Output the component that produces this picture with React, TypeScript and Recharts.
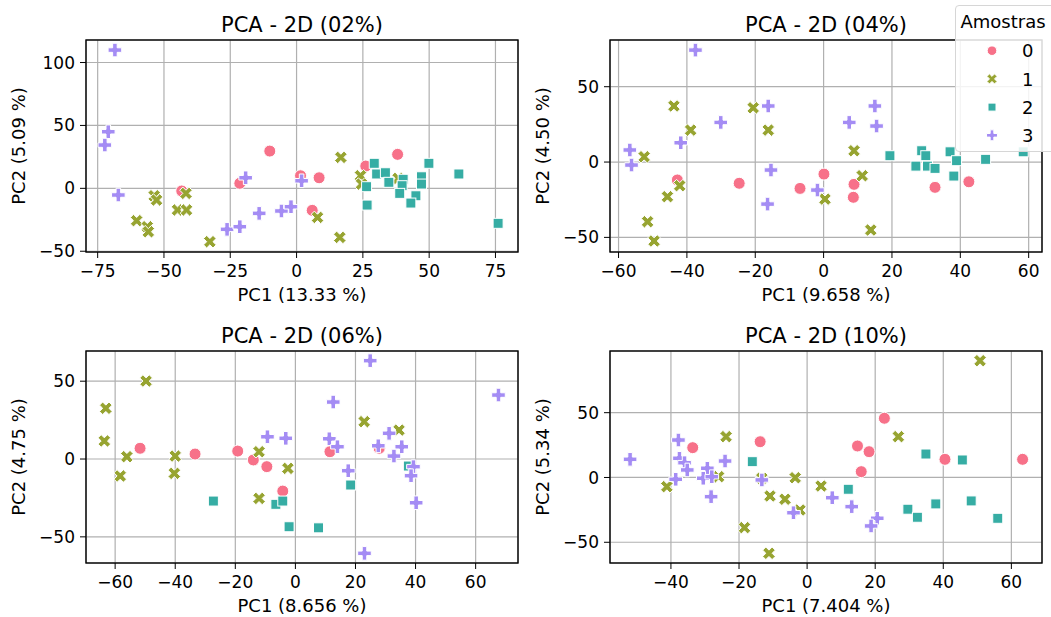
import { ScatterChart, Scatter, XAxis, YAxis, CartesianGrid } from 'recharts';

type Pt = [number, number];

const FONT = '"DejaVu Sans", sans-serif';

const classes = ['0', '1', '2', '3'];
const colors = ['#f77189', '#97a431', '#36ada4', '#a48cf4'];

// PCA 02%
const p02c0: Pt[] = [[-43.3, -2.1], [-21.4, 4.0], [-10.1, 29.6], [1.5, 10.0], [8.5, 8.4], [5.9, -17.5], [26.1, 17.7], [38.1, 27.0]];
const p02c1: Pt[] = [[-60.3, -25.7], [-56.3, -30.5], [-55.9, -34.5], [-53.7, -5.9], [-52.8, -9.3], [-44.9, -17.2], [-41.5, -17.2], [-41.7, -4.0], [-32.7, -42.4], [16.7, 24.6], [7.9, -23.1], [16.3, -39.0], [24.1, 10.0], [24.5, 3.4], [38.3, 7.9]];
const p02c2: Pt[] = [[29.3, 19.9], [30.2, 11.4], [33.5, 12.4], [34.8, 4.8], [26.4, 1.3], [26.6, -13.3], [40.2, 7.2], [39.8, 2.1], [38.9, -4.0], [45.0, -5.9], [43.1, -11.7], [47.1, 9.2], [47.1, 3.4], [49.9, 19.9], [61.2, 11.4], [76.0, -27.8]];
const p02c3: Pt[] = [[-68.5, 109.9], [-71.0, 45.0], [-72.3, 34.4], [-67.2, -5.3], [-19.2, 8.4], [-14.1, -19.9], [-5.7, -18.0], [-2.1, -14.6], [-26.2, -32.6], [-21.4, -30.5], [1.9, 6.0]];

// PCA 04%
const p04c0: Pt[] = [[-42.8, -11.9], [-24.7, -14.1], [-6.9, -17.5], [0.1, -8.0], [8.9, -14.8], [8.7, -23.4], [32.6, -16.8], [42.5, -13.1]];
const p04c1: Pt[] = [[-43.8, 37.2], [-20.6, 36.0], [-16.2, 21.2], [-38.9, 21.2], [-52.5, 3.5], [-42.1, -15.7], [-45.7, -23.0], [-51.5, -39.6], [-49.6, -52.4], [0.4, -24.6], [8.9, 7.5], [11.3, -9.1], [13.8, -45.1]];
const p04c2: Pt[] = [[19.4, 4.2], [28.7, 7.5], [29.9, 4.2], [27.0, -2.7], [30.4, -2.7], [32.6, -4.2], [37.0, 6.8], [38.9, 0.9], [38.1, -9.3], [47.4, 1.8], [58.4, 6.8]];
const p04c3: Pt[] = [[-37.5, 74.3], [-56.7, 8.0], [-56.2, -2.0], [-41.8, 12.8], [-30.1, 26.3], [-16.2, 37.2], [-15.4, -5.3], [-16.4, -27.9], [-1.8, -18.6], [15.0, 37.2], [15.5, 23.9], [7.5, 26.3]];

// PCA 06%
const p06c0: Pt[] = [[-51.7, 6.9], [-33.4, 3.2], [-19.2, 5.1], [-14.0, -0.6], [-9.5, -4.9], [-4.2, -20.6], [11.5, 4.7], [27.9, 6.9]];
const p06c1: Pt[] = [[-49.7, 50.1], [-63.1, 32.6], [-63.6, 11.6], [-56.1, 1.5], [-58.3, -10.9], [-40.0, 1.9], [-40.3, -9.2], [-12.1, 4.7], [-2.5, -6.0], [-12.1, -25.3], [22.9, 24.0], [34.5, 18.6]];
const p06c2: Pt[] = [[-27.3, -27.0], [-6.5, -29.1], [-4.2, -27.0], [-2.1, -43.5], [18.4, -16.7], [7.7, -44.2], [37.6, -4.5]];
const p06c3: Pt[] = [[-9.3, 14.3], [-3.2, 13.3], [24.9, 63.2], [67.6, 41.1], [12.6, 36.6], [11.3, 13.0], [14.0, 7.9], [31.2, 16.5], [27.6, 8.5], [35.4, 7.9], [32.8, 1.9], [17.6, -7.5], [39.3, -4.9], [38.5, -10.7], [40.2, -28.1], [23.0, -60.6]];

// PCA 10%
const p10c0: Pt[] = [[-33.6, 23.0], [-13.8, 27.6], [22.7, 45.7], [14.8, 24.3], [18.2, 19.9], [15.9, 4.5], [40.5, 14.0], [63.3, 14.0]];
const p10c1: Pt[] = [[-41.2, -7.1], [-23.8, 31.5], [-26.0, 0.6], [-13.3, -0.6], [-10.9, -14.3], [-6.5, -16.8], [-3.5, -0.2], [-2.1, -25.1], [-18.4, -38.7], [-11.2, -58.5], [4.1, -6.6], [26.8, 31.5], [50.8, 90.1]];
const p10c2: Pt[] = [[-16.1, 12.2], [12.1, -9.1], [34.9, 18.1], [45.6, 13.5], [29.6, -24.5], [32.4, -30.7], [37.8, -20.4], [48.2, -18.1], [56.0, -31.5]];
const p10c3: Pt[] = [[-52.0, 14.0], [-37.8, 28.9], [-37.5, 14.8], [-36.0, 11.4], [-35.2, 5.8], [-38.6, -1.4], [-29.3, 7.1], [-30.5, -0.6], [-28.0, 0.6], [-28.2, -14.8], [-24.1, 12.7], [-13.3, -1.9], [-4.0, -27.2], [7.4, -15.6], [13.1, -22.5], [20.6, -31.5], [18.8, -37.4]];

const ticks75 = [-75, -50, -25, 0, 25, 50, 75];
const ticks60 = [-60, -40, -20, 0, 20, 40, 60];
const ticks40 = [-40, -20, 0, 20, 40, 60];
const ticksY100 = [-50, 0, 50, 100];
const ticksY50 = [-50, 0, 50];

const minus = (v: number) => String(v).replace('-', '\u2212');

const toPath = (pts: number[][], k: number) =>
  'M' + pts.map(([a, b]) => `${a * k},${b * k}`).join('L') + 'Z';

// filled plus ("P")
const PLUS = [[-1, -3], [1, -3], [1, -1], [3, -1], [3, 1], [1, 1], [1, 3], [-1, 3], [-1, 1], [-3, 1], [-3, -1], [-1, -1]];
// filled x ("X")
const CROSS = [[-1, -2], [0, -1], [1, -2], [2, -1], [1, 0], [2, 1], [1, 2], [0, 1], [-1, 2], [-2, 1], [-1, 0], [-2, -1]];

function Marker({ cx, cy, kind, scale = 1 }: { cx: number; cy: number; kind: number; scale?: number }) {
  const color = colors[kind];
  const edge = { stroke: '#fff', strokeWidth: 1 };
  if (kind === 0) return <circle cx={cx} cy={cy} r={6 * scale} fill={color} {...edge} />;
  if (kind === 2) {
    const s = 10 * scale;
    return <rect x={cx - s / 2} y={cy - s / 2} width={s} height={s} fill={color} {...edge} />;
  }
  const d = kind === 1 ? toPath(CROSS, (12.6 * scale) / 4) : toPath(PLUS, (13.6 * scale) / 6);
  return <path d={d} transform={`translate(${cx},${cy})`} fill={color} {...edge} />;
}

type Frame = { left: number; top: number; width: number; height: number };

type PanelProps = {
  frame: Frame;
  title: string;
  xLabel: string;
  yLabel: string;
  xDomain: [number, number];
  yDomain: [number, number];
  xTicks: number[];
  yTicks: number[];
  series: Pt[][];
};

const ML = 80;
const MT = 10;
const MR = 10;
const MB = 60;

function Panel({ frame, title, xLabel, yLabel, xDomain, yDomain, xTicks, yTicks, series }: PanelProps) {
  const tickStyle = { fill: '#000', fontSize: 17, fontFamily: FONT };
  return (
    <>
      <div
        style={{
          position: 'absolute',
          left: frame.left,
          width: frame.width,
          top: frame.top - 25.2,
          textAlign: 'center',
          fontSize: 21,
          lineHeight: '21px',
          fontFamily: FONT,
          color: '#000',
          whiteSpace: 'nowrap',
        }}
      >
        {title}
      </div>
      <div style={{ position: 'absolute', left: frame.left - ML, top: frame.top - MT }}>
        <ScatterChart
          width={frame.width + ML + MR}
          height={frame.height + MT + MB}
          margin={{ top: MT, right: MR, bottom: 5, left: 10 }}
        >
          <CartesianGrid stroke="#b0b0b0" strokeWidth={1.2} />
          <XAxis
            type="number"
            dataKey="x"
            domain={xDomain}
            ticks={xTicks}
            interval={0}
            allowDataOverflow
            axisLine={false}
            tickLine={{ stroke: '#000' }}
            tickSize={6}
            tickMargin={7}
            tick={tickStyle}
            tickFormatter={minus}
            height={55}
            label={{ value: xLabel, position: 'insideBottom', offset: 6, fill: '#000', fontSize: 18, fontFamily: FONT }}
          />
          <YAxis
            type="number"
            dataKey="y"
            domain={yDomain}
            ticks={yTicks}
            interval={0}
            allowDataOverflow
            axisLine={false}
            tickLine={{ stroke: '#000' }}
            tickSize={6}
            tickMargin={5}
            tick={tickStyle}
            tickFormatter={minus}
            width={70}
            label={{
              value: yLabel,
              angle: -90,
              position: 'insideLeft',
              offset: 3,
              fill: '#000',
              fontSize: 18,
              fontFamily: FONT,
              style: { textAnchor: 'middle' },
            }}
          />
          {series.map((pts, i) => (
            <Scatter
              key={classes[i]}
              name={classes[i]}
              data={pts.map(([x, y]) => ({ x, y }))}
              fill={colors[i]}
              isAnimationActive={false}
              shape={(p: any) => <Marker cx={p.cx} cy={p.cy} kind={i} />}
            />
          ))}
        </ScatterChart>
        <svg
          width={frame.width}
          height={frame.height}
          style={{ position: 'absolute', left: ML, top: MT, overflow: 'visible', pointerEvents: 'none' }}
        >
          <rect x={0} y={0} width={frame.width} height={frame.height} fill="none" stroke="#000" strokeWidth={1.4} />
        </svg>
      </div>
    </>
  );
}

function SampleLegend() {
  return (
    <div
      style={{
        position: 'absolute',
        left: 955,
        top: 5,
        width: 100,
        height: 145,
        border: '1px solid #d6d6d6',
        borderRadius: 4,
        background: 'rgba(255,255,255,0.85)',
      }}
    >
      <svg width={100} height={145} style={{ display: 'block' }}>
        <text x={47} y={21.6} textAnchor="middle" fontSize={18} fontFamily={FONT} fill="#000">
          Amostras
        </text>
        {classes.map((c, i) => (
          <g key={c}>
            <Marker cx={36} cy={44.7 + 28.2 * i} kind={i} scale={0.8} />
            <text x={66} y={44.7 + 28.2 * i + 6.6} fontSize={18} fontFamily={FONT} fill="#000">
              {c}
            </text>
          </g>
        ))}
      </svg>
    </div>
  );
}

export default function App() {
  return (
    <div
      style={{
        position: 'absolute',
        left: 0,
        top: 0,
        width: 1051,
        height: 617,
        overflow: 'hidden',
        background: '#fff',
      }}
    >
      <Panel
        frame={{ left: 86, top: 40, width: 432, height: 212 }}
        title="PCA - 2D (02%)"
        xLabel="PC1 (13.33 %)"
        yLabel="PC2 (5.09 %)"
        xDomain={[-79.4, 83.5]}
        yDomain={[-50.6, 117.9]}
        xTicks={ticks75}
        yTicks={ticksY100}
        series={[p02c0, p02c1, p02c2, p02c3]}
      />
      <Panel
        frame={{ left: 610, top: 40, width: 432, height: 212 }}
        title="PCA - 2D (04%)"
        xLabel="PC1 (9.658 %)"
        yLabel="PC2 (4.50 %)"
        xDomain={[-62.5, 63.9]}
        yDomain={[-59.7, 81.0]}
        xTicks={ticks60}
        yTicks={ticksY50}
        series={[p04c0, p04c1, p04c2, p04c3]}
      />
      <Panel
        frame={{ left: 86, top: 351, width: 432, height: 212 }}
        title="PCA - 2D (06%)"
        xLabel="PC1 (8.656 %)"
        yLabel="PC2 (4.75 %)"
        xDomain={[-69.7, 74.1]}
        yDomain={[-66.8, 69.4]}
        xTicks={ticks60}
        yTicks={ticksY50}
        series={[p06c0, p06c1, p06c2, p06c3]}
      />
      <Panel
        frame={{ left: 610, top: 351, width: 432, height: 212 }}
        title="PCA - 2D (10%)"
        xLabel="PC1 (7.404 %)"
        yLabel="PC2 (5.34 %)"
        xDomain={[-57.9, 69.0]}
        yDomain={[-66.0, 97.6]}
        xTicks={ticks40}
        yTicks={ticksY50}
        series={[p10c0, p10c1, p10c2, p10c3]}
      />
      <SampleLegend />
    </div>
  );
}
